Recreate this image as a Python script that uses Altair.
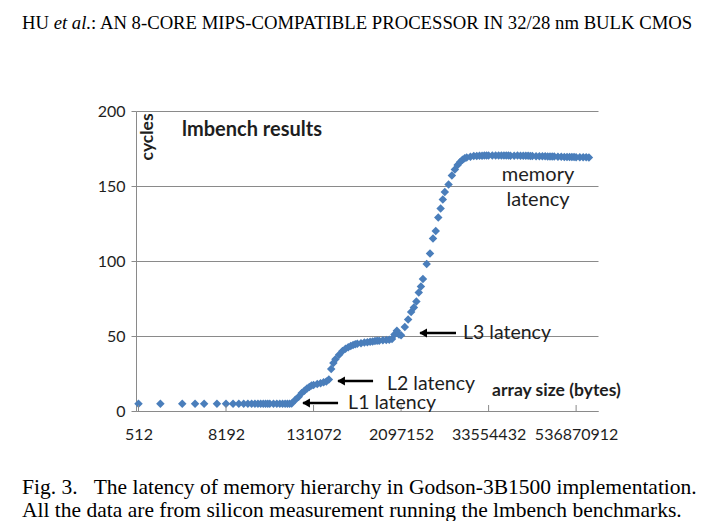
import altair as alt
import pandas as pd

# ---- data ----
# array sizes in KB (lmbench lat_mem_rd sampling)
size_kb = [0.5, 1, 2, 3, 4, 6, 8, 10, 12, 14,
           16, 18, 20, 22, 24, 26, 28, 30,
           32, 36, 40, 44, 48, 52, 56, 60,
           64, 72, 80, 88, 96, 104, 112, 120,
           128, 144, 160, 176, 192, 208, 224, 240,
           256, 288, 320, 352, 384, 416, 448, 480,
           512, 576, 640, 704, 768, 832, 896, 960,
           1024, 1152, 1280, 1408, 1536, 1664, 1792, 1920,
           2048, 2304, 2560, 2816, 3072, 3328, 3584, 3840,
           4096, 4608, 5120, 5632, 6144, 6656, 7168, 7680,
           8192, 9216, 10240, 11264, 12288, 13312, 14336, 15360,
           16384, 18432, 20480, 22528, 24576, 26624, 28672, 30720,
           32768, 36864, 40960, 45056, 49152, 53248, 57344, 61440,
           65536, 73728, 81920, 90112, 98304, 106496, 114688, 122880,
           131072, 147456, 163840, 180224, 196608, 212992, 229376, 245760,
           262144, 294912, 327680, 360448, 393216, 425984, 458752, 491520,
           524288, 589824, 655360, 720896, 786432]

latency_cycles = [4.8, 4.8, 4.8, 4.8, 4.8, 4.8, 4.8, 4.8, 4.8, 4.8,
                  4.8, 4.8, 4.8, 4.8, 4.8, 4.8, 4.8, 4.8,
                  4.8, 4.8, 4.8, 4.8, 4.8, 4.8, 4.8, 4.8,
                  5.0, 7.5, 9.5, 12.0, 13.5, 15.0, 16.0, 17.0,
                  17.3, 18.0, 18.5, 19.2, 19.7, 21.0, 28.0, 32.0,
                  34.5, 37.5, 40.0, 41.5, 42.5, 43.3, 44.0, 44.5,
                  44.8, 45.2, 45.6, 45.9, 46.2, 46.4, 46.6, 46.8,
                  46.9, 47.1, 47.3, 47.5, 48.0, 51.0, 53.5, 51.0,
                  50.5, 56.0, 61.0, 66.0, 69.0, 73.0, 79.0, 83.0,
                  88.0, 98.0, 105.0, 115.0, 120.0, 129.0, 135.0, 141.0,
                  146.0, 151.0, 157.0, 161.0, 164.0, 166.0, 167.5, 168.5,
                  169.0, 169.5, 170.0, 170.0, 170.2, 170.2, 170.3, 170.3,
                  170.3, 170.4, 170.3, 170.4, 170.3, 170.3, 170.4, 170.3,
                  170.2, 170.2, 170.3, 170.2, 170.1, 170.2, 170.1, 170.0,
                  170.0, 169.9, 169.9, 169.8, 169.8, 169.7, 169.7, 169.6,
                  169.6, 169.5, 169.5, 169.4, 169.4, 169.3, 169.3, 169.3,
                  169.2, 169.2, 169.1, 169.1, 169.0]

x_tick_values = [512, 8192, 131072, 2097152, 33554432, 536870912]
y_tick_values = [0, 50, 100, 150, 200]

# arrows: tip (left), tail (right), height in cycles
arrow_tip = [93970, 284900, 3833000]
arrow_tail = [284900, 863500, 11946000]
arrow_y = [5.3, 20.0, 52.0]

# annotation labels (regular)
note_text = ["L1 latency", "L2 latency", "L3 latency"]
note_x = [391900, 1345000, 14915000]
note_y = [5.3, 18.0, 52.0]

mem_text = ["memory", "latency"]
mem_x = [160660000, 160660000]
mem_y = [157.3, 140.7]

header_parts = ["HU", "et al.", ": AN 8-CORE MIPS-COMPATIBLE PROCESSOR IN 32/28 nm BULK CMOS"]
caption_lines = ["Fig. 3.\u00a0\u00a0\u00a0The latency of memory hierarchy in Godson-3B1500 implementation.",
                 "All the data are from silicon measurement running the lmbench benchmarks."]

# ---- chart ----
pts = pd.DataFrame({"size": [k * 1024 for k in size_kb], "cycles": latency_cycles})

GRID = "#8a8a8a"
TXT = "#1e1e1e"
BLUE = "#4a7ebb"
FONT = "Lato"
SERIF = "Liberation Serif"

xscale = alt.Scale(type="log", base=2, domain=[473, 1073741824], nice=False)
yscale = alt.Scale(domain=[0, 200], nice=False)

points = alt.Chart(pts).mark_point(
    shape="diamond", filled=True, size=72, opacity=1, color=BLUE, strokeWidth=0
).encode(
    x=alt.X("size:Q", scale=xscale, axis=alt.Axis(
        values=x_tick_values, format="d", title=None, grid=False,
        domain=True, domainColor=GRID, domainWidth=1, ticks=False,
        labelFont=FONT, labelFontSize=16, labelColor=TXT, labelPadding=15,
        labelOverlap=False, labelFlush=False)),
    y=alt.Y("cycles:Q", scale=yscale, axis=alt.Axis(
        values=y_tick_values, title=None, grid=True, gridColor=GRID, gridWidth=1,
        domain=True, domainColor=GRID, domainWidth=1, ticks=True, tickSize=5,
        tickColor=GRID, labelFont=FONT, labelFontSize=16, labelColor=TXT,
        labelPadding=6)),
)

ticks_df = pd.DataFrame({"tick": x_tick_values})
xticks = alt.Chart(ticks_df).mark_rule(color=GRID, strokeWidth=1).encode(
    x=alt.X("tick:Q", scale=xscale), y=alt.value(300), y2=alt.value(294))

arrows_df = pd.DataFrame({"tip": arrow_tip, "tail": arrow_tail, "y": arrow_y})
arrow_lines = alt.Chart(arrows_df).mark_rule(color="black", strokeWidth=2.5).encode(
    x=alt.X("tip:Q", scale=xscale), x2="tail:Q", y=alt.Y("y:Q", scale=yscale))
arrow_heads = alt.Chart(arrows_df).mark_point(
    shape="triangle-left", filled=True, size=80, color="black", opacity=1, xOffset=3
).encode(x=alt.X("tip:Q", scale=xscale), y=alt.Y("y:Q", scale=yscale))

notes_df = pd.DataFrame({"x": note_x, "y": note_y, "t": note_text})
notes = alt.Chart(notes_df).mark_text(
    align="left", baseline="middle", font=FONT, fontSize=19.5, color=TXT
).encode(x=alt.X("x:Q", scale=xscale), y=alt.Y("y:Q", scale=yscale), text="t:N")

mem_df = pd.DataFrame({"x": mem_x, "y": mem_y, "t": mem_text})
mem = alt.Chart(mem_df).mark_text(
    align="center", baseline="middle", font=FONT, fontSize=20, color=TXT
).encode(x=alt.X("x:Q", scale=xscale), y=alt.Y("y:Q", scale=yscale), text="t:N")

title_df = pd.DataFrame({"x": [2034], "y": [187.3], "t": ["lmbench results"]})
title_txt = alt.Chart(title_df).mark_text(
    align="left", baseline="middle", font=FONT, fontSize=20, fontWeight="bold", color=TXT
).encode(x=alt.X("x:Q", scale=xscale), y=alt.Y("y:Q", scale=yscale), text="t:N")

cyc_df = pd.DataFrame({"x": [690], "y": [182.7], "t": ["cycles"]})
cyc_txt = alt.Chart(cyc_df).mark_text(
    align="center", baseline="middle", angle=270, font=FONT, fontSize=17.5,
    fontWeight="bold", color=TXT
).encode(x=alt.X("x:Q", scale=xscale), y=alt.Y("y:Q", scale=yscale), text="t:N")

xt_df = pd.DataFrame({"x": [37480000], "y": [13.3], "t": ["array size (bytes)"]})
xt_txt = alt.Chart(xt_df).mark_text(
    align="left", baseline="middle", font=FONT, fontSize=17.5, fontWeight="bold", color=TXT
).encode(x=alt.X("x:Q", scale=xscale), y=alt.Y("y:Q", scale=yscale), text="t:N")

# header (page text above the figure)
HFS = 18.7
h1 = alt.Chart(pd.DataFrame({"t": [header_parts[0]]})).mark_text(
    align="left", baseline="alphabetic", font=SERIF, fontSize=HFS, color="black"
).encode(x=alt.value(-114), y=alt.value(-82), text="t:N")
h2 = alt.Chart(pd.DataFrame({"t": [header_parts[1]]})).mark_text(
    align="left", baseline="alphabetic", font=SERIF, fontSize=HFS, fontStyle="italic",
    color="black"
).encode(x=alt.value(-82.3), y=alt.value(-82), text="t:N")
h3 = alt.Chart(pd.DataFrame({"t": [header_parts[2]]})).mark_text(
    align="left", baseline="alphabetic", font=SERIF, fontSize=HFS, color="black"
).encode(x=alt.value(-44.9), y=alt.value(-82), text="t:N")

CFS = 21.5
c1 = alt.Chart(pd.DataFrame({"t": [caption_lines[0]]})).mark_text(
    align="left", baseline="alphabetic", font=SERIF, fontSize=CFS, color="black"
).encode(x=alt.value(-114), y=alt.value(382.5), text="t:N")
c2 = alt.Chart(pd.DataFrame({"t": [caption_lines[1]]})).mark_text(
    align="left", baseline="alphabetic", font=SERIF, fontSize=CFS, color="black"
).encode(x=alt.value(-114), y=alt.value(405.5), text="t:N")

chart = alt.layer(
    points, xticks, arrow_lines, arrow_heads, notes, mem, title_txt, cyc_txt, xt_txt,
    h1, h2, h3, c1, c2
).properties(
    width=462, height=300,
    autosize=alt.AutoSizeParams(type="none"),
    padding={"left": 128, "top": 103, "right": 99, "bottom": 110},
    background="white",
).configure_view(stroke=None)

chart.save("out.html", embed_options={"renderer": "svg", "actions": False})
